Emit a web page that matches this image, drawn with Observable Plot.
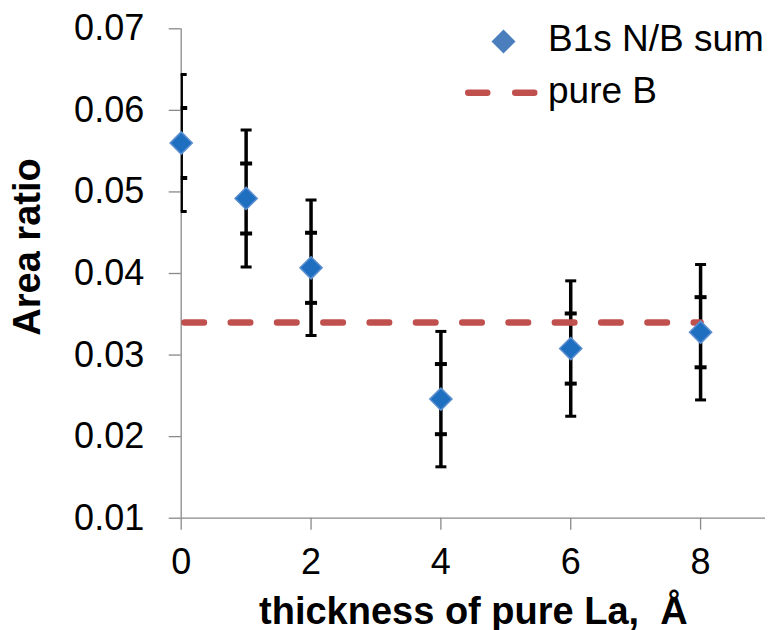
<!DOCTYPE html>
<html>
<head>
<meta charset="utf-8">
<script src="https://cdn.jsdelivr.net/npm/d3@7"></script>
<script src="https://cdn.jsdelivr.net/npm/@observablehq/plot@0.6"></script>
<style>
  html, body { margin: 0; padding: 0; background: #fff; }
  #wrap { position: relative; width: 777px; height: 630px; font-family: "Liberation Sans", Arial, sans-serif; }
  .lg-text { position: absolute; font-size: 37px; line-height: 37px; color: #000; white-space: pre; }
  .lg-swatch { position: absolute; }
</style>
</head>
<body>
<div id="wrap"></div>
<script>
// ---- data ----
const thickness = [0, 1, 2, 4, 6, 8];
const areaRatio = [0.0560, 0.0492, 0.0407, 0.0246, 0.0308, 0.0328];
const errOuter  = [0.0084, 0.0084, 0.0083, 0.0083, 0.0083, 0.0083];
const errInner  = [0.0043, 0.0043, 0.0043, 0.0043, 0.0043, 0.0043];
const pureBx = [0, 8];
const pureBy = [0.034, 0.034];
const xTicks = [0, 2, 4, 6, 8];
const yTicks = [0.01, 0.02, 0.03, 0.04, 0.05, 0.06, 0.07];
const xDomain = [0, 9];
const yDomain = [0.01, 0.07];
const seriesName = "B1s N/B sum";
const refName = "pure B";
const xTitle = "thickness of pure La, \u00a0Å";
const yTitle = "Area ratio";

const pts = thickness.map((x, i) => ({x, y: areaRatio[i], eo: errOuter[i], ei: errInner[i]}));
const pureB = pureBx.map((x, i) => ({x, y: pureBy[i]}));
const capsOuter = pts.flatMap(d => [{x: d.x, y: d.y + d.eo}, {x: d.x, y: d.y - d.eo}]);
const capsInner = pts.flatMap(d => [{x: d.x, y: d.y + d.ei}, {x: d.x, y: d.y - d.ei}]);

const hbar = { draw(ctx, size) { const r = Math.sqrt(size / Math.PI); ctx.moveTo(-r, 0); ctx.lineTo(r, 0); } };

const GRAY = "#898989";
const BLUE = "#1f6fc1";
const BLUE_EDGE = "#5b8fcf";
const RED = "#C0504D";

const chart = Plot.plot({
  width: 777,
  height: 630,
  marginLeft: 180.7,
  marginRight: 12,
  marginTop: 28.3,
  marginBottom: 112.3,
  style: { fontFamily: "'Liberation Sans', Arial, sans-serif", background: "#fff", color: "#000" },
  x: { domain: xDomain },
  y: { domain: yDomain },
  marks: [
    Plot.ruleX([xDomain[0]], { stroke: GRAY, strokeWidth: 1.3 }),
    Plot.ruleY([yDomain[0]], { stroke: GRAY, strokeWidth: 1.3 }),
    Plot.axisY({ ticks: yTicks, tickFormat: d => d.toFixed(2), tickSize: 12, tickPadding: 25, fontSize: 36, stroke: GRAY, strokeWidth: 1.3, fill: "#000", label: null }),
    Plot.axisX({ ticks: xTicks, tickFormat: d => String(d), tickSize: 12, tickPadding: 18, fontSize: 36, stroke: GRAY, strokeWidth: 1.3, fill: "#000", label: null }),
    Plot.ruleX(pts, { x: "x", y1: d => d.y - d.eo, y2: d => d.y + d.eo, stroke: "#000", strokeWidth: 3.5, clip: true }),
    Plot.dot(capsOuter, { x: "x", y: "y", symbol: hbar, r: 5.5, fill: "none", stroke: "#000", strokeWidth: 3, clip: true }),
    Plot.dot(capsInner, { x: "x", y: "y", symbol: hbar, r: 6, fill: "none", stroke: "#000", strokeWidth: 4, clip: true }),
    Plot.line(pureB, { x: "x", y: "y", stroke: RED, strokeWidth: 6.5, strokeDasharray: "19.5,26.8", strokeDashoffset: -3.25, strokeLinecap: "round" }),
    Plot.dot(pts, { x: "x", y: "y", symbol: "diamond2", r: 10, fill: BLUE, stroke: BLUE_EDGE, strokeWidth: 1.5 }),
    Plot.text([yTitle], { text: d => d, frameAnchor: "left", textAnchor: "middle", lineAnchor: "middle", rotate: -90, dx: -153.5, dy: -26.5, fontSize: 38, fontWeight: "bold", fill: "#000" }),
    Plot.text([xTitle], { text: d => d, frameAnchor: "bottom", textAnchor: "middle", lineAnchor: "bottom", dy: 105.3, fontSize: 38, fontWeight: "bold", fill: "#000" })
  ]
});

const wrap = document.getElementById("wrap");
wrap.appendChild(chart);

// ---- legend (overlay) ----
const ns = "http://www.w3.org/2000/svg";
function swatch(left, top, w, h, build) {
  const s = document.createElementNS(ns, "svg");
  s.setAttribute("width", w); s.setAttribute("height", h);
  s.setAttribute("class", "lg-swatch");
  s.style.left = left + "px"; s.style.top = top + "px";
  build(s); wrap.appendChild(s);
}
function label(left, top, txt) {
  const d = document.createElement("div");
  d.className = "lg-text"; d.style.left = left + "px"; d.style.top = top + "px";
  d.textContent = txt; wrap.appendChild(d);
}
swatch(490, 28, 27, 27, s => {
  const p = document.createElementNS(ns, "path");
  p.setAttribute("d", "M13.5,1.5 L25.5,13.5 L13.5,25.5 L1.5,13.5 Z");
  p.setAttribute("fill", "#4a7ebd");
  s.appendChild(p);
});
label(548, 20.4, seriesName);
swatch(460, 85, 84, 16, s => {
  const l = document.createElementNS(ns, "line");
  l.setAttribute("x1", 8.25); l.setAttribute("x2", 75); l.setAttribute("y1", 7.7); l.setAttribute("y2", 7.7);
  l.setAttribute("stroke", RED); l.setAttribute("stroke-width", 6.5);
  l.setAttribute("stroke-linecap", "round"); l.setAttribute("stroke-dasharray", "19,28");
  s.appendChild(l);
});
label(548, 72, refName);
</script>
</body>
</html>
